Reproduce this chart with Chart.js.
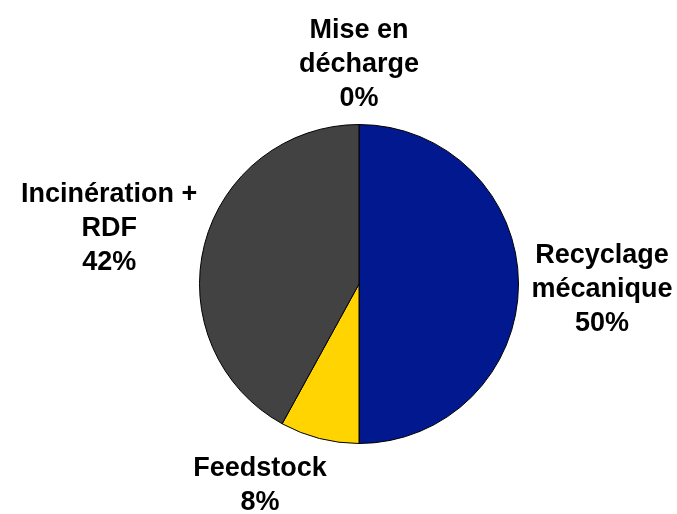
<!DOCTYPE html>
<html>
<head>
<meta charset="utf-8">
<script src="https://cdn.jsdelivr.net/npm/chart.js@4/dist/chart.umd.min.js"></script>
<style>
  html, body { margin: 0; padding: 0; background: #fff; }
  #wrap { width: 677px; height: 514px; }
</style>
</head>
<body>
<div id="wrap"><canvas id="pieChart" width="677" height="514"></canvas></div>
<script>
// filières de traitement, dans l'ordre horaire depuis le haut
const categories = [
    ['Recyclage', 'mécanique'],
    ['Feedstock'],
    ['Incinération +', 'RDF'],
    ['Mise en', 'décharge']
];
const shares = [50, 8, 42, 0];
const sliceColors = ['#02188E', '#FFD400', '#424242', '#FFFFFF'];

// labels outside the pie: name lines + percentage, pushed out along the slice's mid angle
const outsideLabels = {
    id: 'outsideLabels',
    afterDatasetsDraw(chart, args, opts) {
        const ctx = chart.ctx;
        const arcs = chart.getDatasetMeta(0).data;
        const values = chart.data.datasets[0].data;
        const total = values.reduce((a, b) => a + b, 0);
        const lineH = opts.lineHeight;
        ctx.save();
        ctx.font = opts.font;
        ctx.fillStyle = '#000';
        ctx.textAlign = 'center';
        ctx.textBaseline = 'middle';
        arcs.forEach((arc, i) => {
            const lines = [].concat(chart.data.labels[i], Math.round(values[i] / total * 100) + '%');
            const mid = (arc.startAngle + arc.endAngle) / 2;
            const dx = Math.cos(mid), dy = Math.sin(mid);
            const halfW = Math.max(...lines.map(t => ctx.measureText(t).width)) / 2;
            const halfH = lines.length * lineH / 2;
            const r = arc.outerRadius + opts.gap;
            const [nx, ny] = (opts.nudge && opts.nudge[i]) || [0, 0];
            const cx = arc.x + dx * (r + halfW * Math.abs(dx)) + nx;
            const cy = arc.y + dy * r + dy * halfH + ny;
            lines.forEach((t, k) => {
                ctx.fillText(t, cx, cy - halfH + lineH * (k + 0.5));
            });
        });
        ctx.restore();
    }
};

new Chart(document.getElementById('pieChart'), {
    type: 'pie',
    data: {
        labels: categories,
        datasets: [{
            data: shares,
            backgroundColor: sliceColors,
            borderColor: '#000',
            borderWidth: 1
        }]
    },
    options: {
        responsive: false,
        animation: false,
        layout: { padding: { left: 199, right: 158, top: 124, bottom: 70 } },
        plugins: {
            legend: { display: false },
            tooltip: { enabled: false },
            outsideLabels: {
                font: 'bold 27px "Liberation Sans", Arial, sans-serif',
                lineHeight: 34,
                gap: 13,
                nudge: [[0, 6], [-52, 2], [0, 0], [0, 4]]
            }
        }
    },
    plugins: [outsideLabels]
});
</script>
</body>
</html>
